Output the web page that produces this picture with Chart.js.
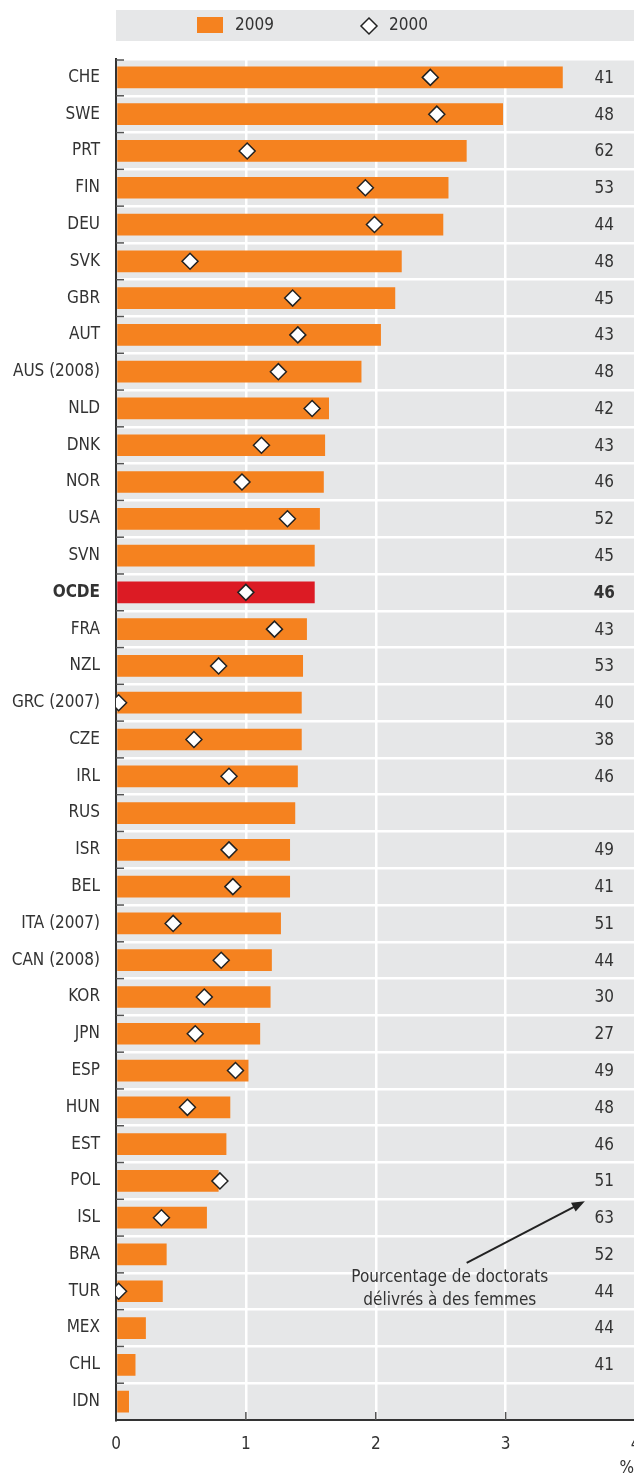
<!DOCTYPE html>
<html>
<head>
<meta charset="utf-8">
<script src="https://cdn.jsdelivr.net/npm/chart.js@4"></script>
<style>
  html, body { margin: 0; padding: 0; background: #fff; overflow: hidden; }
  #wrap { width: 645px; height: 1474px; }
</style>
</head>
<body>
<div id="wrap"><canvas id="chart"></canvas></div>
<script>
const countries = ['CHE', 'SWE', 'PRT', 'FIN', 'DEU', 'SVK', 'GBR', 'AUT', 'AUS (2008)', 'NLD',
  'DNK', 'NOR', 'USA', 'SVN', 'OCDE', 'FRA', 'NZL', 'GRC (2007)', 'CZE', 'IRL',
  'RUS', 'ISR', 'BEL', 'ITA (2007)', 'CAN (2008)', 'KOR', 'JPN', 'ESP', 'HUN', 'EST',
  'POL', 'ISL', 'BRA', 'TUR', 'MEX', 'CHL', 'IDN'];
const grads2009 = [3.44, 2.98, 2.70, 2.56, 2.52, 2.20, 2.15, 2.04, 1.89, 1.64,
  1.61, 1.60, 1.57, 1.53, 1.53, 1.47, 1.44, 1.43, 1.43, 1.40,
  1.38, 1.34, 1.34, 1.27, 1.20, 1.19, 1.11, 1.02, 0.88, 0.85,
  0.79, 0.70, 0.39, 0.36, 0.23, 0.15, 0.10];
const grads2000 = [2.42, 2.47, 1.01, 1.92, 1.99, 0.57, 1.36, 1.40, 1.25, 1.51,
  1.12, 0.97, 1.32, null, 1.00, 1.22, 0.79, 0.02, 0.60, 0.87,
  null, 0.87, 0.90, 0.44, 0.81, 0.68, 0.61, 0.92, 0.55, null,
  0.80, 0.35, null, 0.02, null, null, null];
const womenShare = [41, 48, 62, 53, 44, 48, 45, 43, 48, 42,
  43, 46, 52, 45, 46, 43, 53, 40, 38, 46,
  null, 49, 41, 51, 44, 30, 27, 49, 48, 46,
  51, 63, 52, 44, 44, 41, null];
const xTicks = [0, 1, 2, 3, 4];

const FONT = "'Liberation Sans Narrow', 'DejaVu Sans Condensed', sans-serif";
const ORANGE = '#f5821f';
const RED = '#dc1b24';
const GREY = '#e6e7e8';
const TEXT = '#333333';

// grey panel, legend, inner ticks, share column and note
const decor = {
  id: 'decor',
  beforeDraw(chart) {
    const { ctx, chartArea: a } = chart;
    ctx.save();
    ctx.fillStyle = GREY;
    ctx.fillRect(a.left, a.top, chart.width - a.left, a.bottom - a.top);
    // legend
    ctx.fillRect(a.left, 10, chart.width - a.left, 31);
    ctx.fillStyle = ORANGE;
    ctx.fillRect(197, 17, 26, 16);
    ctx.fillStyle = TEXT;
    ctx.font = '17px ' + FONT;
    ctx.textBaseline = 'middle';
    ctx.fillText('2009', 235, 26);
    ctx.fillText('2000', 389, 26);
    ctx.beginPath();
    ctx.moveTo(369, 18); ctx.lineTo(377, 26); ctx.lineTo(369, 34); ctx.lineTo(361, 26);
    ctx.closePath();
    ctx.fillStyle = '#fff';
    ctx.fill();
    ctx.strokeStyle = '#222';
    ctx.lineWidth = 1.5;
    ctx.stroke();
    ctx.restore();
  },
  afterDatasetsDraw(chart) {
    const { ctx, chartArea: a, scales: { x, y } } = chart;
    ctx.save();
    ctx.strokeStyle = '#555';
    ctx.lineWidth = 1.5;
    for (let i = 0; i < countries.length; i++) {
      const yy = i === 0 ? a.top + 1 : (y.getPixelForValue(i - 1) + y.getPixelForValue(i)) / 2;
      ctx.beginPath();
      ctx.moveTo(a.left, yy);
      ctx.lineTo(a.left + 8, yy);
      ctx.stroke();
    }
    xTicks.slice(1, -1).forEach(v => {
      const xx = x.getPixelForValue(v);
      ctx.beginPath();
      ctx.moveTo(xx, a.bottom);
      ctx.lineTo(xx, a.bottom - 8);
      ctx.stroke();
    });

    ctx.fillStyle = TEXT;
    ctx.textAlign = 'center';
    ctx.textBaseline = 'middle';
    womenShare.forEach((v, i) => {
      if (v === null) return;
      ctx.font = (countries[i] === 'OCDE' ? 'bold ' : '') + '17px ' + FONT;
      ctx.fillText(String(v), x.getPixelForValue(3.76), y.getPixelForValue(i) + 1);
    });

    // note with arrow
    const x0 = x.getPixelForValue(2.70), y0 = y.getPixelForValue(32.23);
    const x1 = x.getPixelForValue(3.61), y1 = y.getPixelForValue(30.55);
    const ang = Math.atan2(y1 - y0, x1 - x0);
    ctx.strokeStyle = '#222';
    ctx.lineWidth = 2;
    ctx.beginPath();
    ctx.moveTo(x0, y0);
    ctx.lineTo(x1 - 10 * Math.cos(ang), y1 - 10 * Math.sin(ang));
    ctx.stroke();
    ctx.fillStyle = '#222';
    ctx.beginPath();
    ctx.moveTo(x1, y1);
    ctx.lineTo(x1 - 13 * Math.cos(ang) + 5 * Math.sin(ang), y1 - 13 * Math.sin(ang) - 5 * Math.cos(ang));
    ctx.lineTo(x1 - 13 * Math.cos(ang) - 5 * Math.sin(ang), y1 - 13 * Math.sin(ang) + 5 * Math.cos(ang));
    ctx.closePath();
    ctx.fill();
    ctx.fillStyle = TEXT;
    ctx.font = '17px ' + FONT;
    ctx.fillText('Pourcentage de doctorats', x.getPixelForValue(2.57), y.getPixelForValue(32.64));
    ctx.fillText('délivrés à des femmes', x.getPixelForValue(2.57), y.getPixelForValue(33.25));

    ctx.textAlign = 'left';
    ctx.fillText('%', x.getPixelForValue(4) - 16, a.bottom + 49);
    ctx.restore();
  }
};

new Chart(document.getElementById('chart'), {
  type: 'bar',
  data: {
    labels: countries,
    datasets: [
      {
        type: 'line',
        label: '2000',
        data: grads2000,
        showLine: false,
        pointStyle: 'rectRot',
        pointRadius: 8,
        pointBackgroundColor: '#fff',
        pointBorderColor: '#222',
        pointBorderWidth: 1.5,
        order: 0
      },
      {
        label: '2009',
        data: grads2009,
        backgroundColor: countries.map(c => c === 'OCDE' ? RED : ORANGE),
        categoryPercentage: 1,
        barPercentage: 0.59,
        order: 1
      }
    ]
  },
  options: {
    indexAxis: 'y',
    responsive: true,
    maintainAspectRatio: false,
    animation: false,
    layout: { padding: { top: 59, left: 0, right: 0, bottom: 0 } },
    plugins: {
      legend: { display: false },
      tooltip: { enabled: false }
    },
    scales: {
      x: {
        min: 0,
        max: 4,
        ticks: {
          stepSize: 1,
          padding: 0,
          color: TEXT,
          font: { family: FONT, size: 17 }
        },
        grid: {
          color: c => (c.tick && c.tick.value > 0 && c.tick.value < 4) ? '#fff' : 'rgba(0,0,0,0)',
          lineWidth: 2.5,
          drawTicks: true,
          tickLength: 14,
          tickColor: 'rgba(0,0,0,0)'
        },
        border: { display: true, color: '#333', width: 2 },
        afterFit: s => { s.height = 54; }
      },
      y: {
        ticks: {
          padding: 16,
          color: TEXT,
          font: c => ({ family: FONT, size: 17, weight: countries[c.index] === 'OCDE' ? 'bold' : 'normal' })
        },
        grid: {
          color: c => c.tick ? '#fff' : 'rgba(0,0,0,0)',
          lineWidth: 2.5,
          drawTicks: false
        },
        border: { display: true, color: '#333', width: 2 },
        afterFit: s => { s.width = 116; }
      }
    }
  },
  plugins: [decor]
});
</script>
</body>
</html>
